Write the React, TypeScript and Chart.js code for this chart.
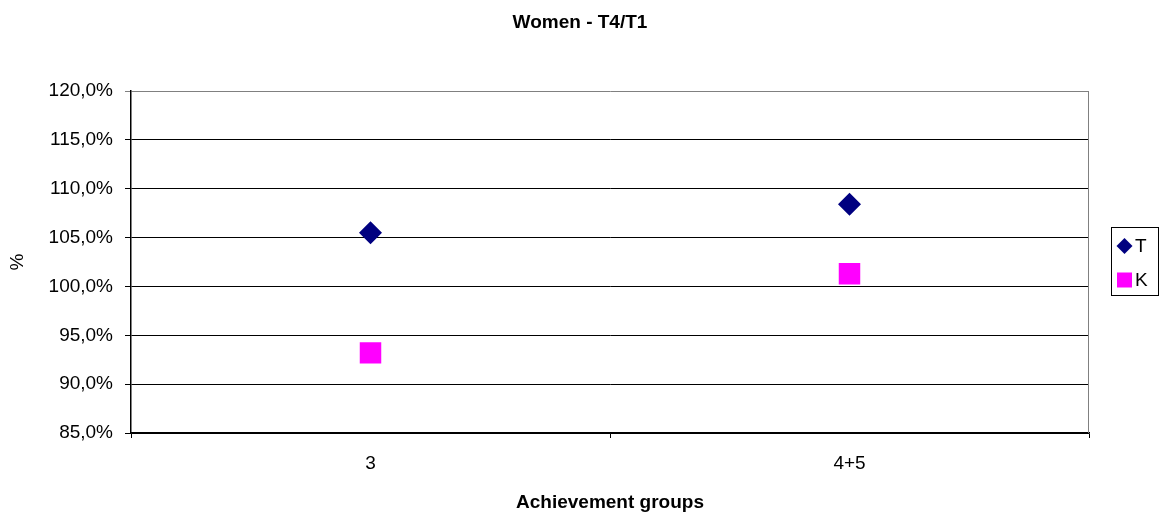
import { useEffect, useRef } from 'react';
import { Chart, registerables } from 'chart.js';

Chart.register(...registerables);

// Achievement groups on the category axis
const groups = ['3', '4+5'];
// T4/T1 ratio in percent, per series
const seriesT = [105.5, 108.4];
const seriesK = [93.2, 101.3];
const seriesNames = ['T', 'K'];
const seriesColors = ['#000080', '#FF00FF'];
// Value axis range and step
const yMin = 85;
const yMax = 120;
const yStep = 5;

const FONT = "'Liberation Sans', Arial, Helvetica, sans-serif";
const FS = 19;

const fmtPercent = (v: number) => `${v.toFixed(1).replace('.', ',')}%`;

// Draws the grey right edge of the plot frame and the boxed legend on the right.
const frameAndLegend = {
  id: 'frameAndLegend',
  afterDraw(chart: any) {
    const { ctx, chartArea: area } = chart;
    ctx.save();
    ctx.strokeStyle = '#808080';
    ctx.lineWidth = 1;
    ctx.beginPath();
    ctx.moveTo(Math.round(area.right) - 0.5, area.top);
    ctx.lineTo(Math.round(area.right) - 0.5, area.bottom);
    ctx.stroke();

    const datasets = chart.data.datasets;
    const boxLeft = Math.round(area.right) + 22;
    const boxRight = chart.width - 1;
    const boxH = 68;
    const boxTop = Math.round((area.top + area.bottom) / 2 - boxH / 2) - 1;
    ctx.strokeStyle = '#000000';
    ctx.strokeRect(boxLeft + 0.5, boxTop + 0.5, boxRight - boxLeft - 1, boxH);

    ctx.font = `${FS}px ${FONT}`;
    ctx.textBaseline = 'middle';
    ctx.textAlign = 'left';
    datasets.forEach((ds: any, i: number) => {
      const cx = boxLeft + 13.5;
      const cy = boxTop + 19 + i * 34;
      ctx.fillStyle = ds.backgroundColor;
      ctx.beginPath();
      if (ds.pointStyle === 'rectRot') {
        const r = 8;
        ctx.moveTo(cx - r, cy);
        ctx.lineTo(cx, cy - r);
        ctx.lineTo(cx + r, cy);
        ctx.lineTo(cx, cy + r);
        ctx.closePath();
        ctx.fill();
      } else {
        const s = 15;
        ctx.fillRect(cx - s / 2, cy - s / 2, s, s);
      }
      ctx.fillStyle = '#000000';
      ctx.fillText(ds.label, boxLeft + 24, cy + 1);
    });
    ctx.restore();
  },
};

export default function App() {
  const canvasRef = useRef<HTMLCanvasElement | null>(null);

  useEffect(() => {
    const canvas = canvasRef.current;
    if (!canvas) return;

    const chart = new Chart(canvas, {
      type: 'line',
      data: {
        labels: groups,
        datasets: [
          {
            label: seriesNames[0],
            data: seriesT,
            showLine: false,
            pointStyle: 'rectRot',
            pointRadius: 11.5,
            pointHoverRadius: 11.5,
            pointBorderWidth: 0,
            backgroundColor: seriesColors[0],
            borderColor: seriesColors[0],
          },
          {
            label: seriesNames[1],
            data: seriesK,
            showLine: false,
            pointStyle: 'rect',
            pointRadius: 15.2,
            pointHoverRadius: 15.2,
            pointBorderWidth: 0,
            backgroundColor: seriesColors[1],
            borderColor: seriesColors[1],
          },
        ],
      },
      options: {
        responsive: false,
        animation: false,
        devicePixelRatio: 1,
        events: [],
        layout: { padding: 0 },
        plugins: {
          legend: { display: false },
          tooltip: { enabled: false },
          title: {
            display: true,
            text: 'Women - T4/T1',
            color: '#000000',
            font: { family: FONT, size: FS, weight: 'bold', lineHeight: 1.2 },
            padding: { top: 11.6, bottom: 56.6 },
          },
        },
        scales: {
          x: {
            type: 'category',
            offset: true,
            grid: {
              display: true,
              offset: true,
              drawOnChartArea: false,
              drawTicks: true,
              tickLength: 5,
              color: '#000000',
            },
            border: { display: true, color: '#000000', width: 1.5 },
            ticks: {
              color: '#000000',
              padding: 14.6,
              font: { family: FONT, size: FS, lineHeight: 1.2 },
              maxRotation: 0,
            },
            title: {
              display: true,
              text: 'Achievement groups',
              color: '#000000',
              font: { family: FONT, size: FS, weight: 'bold', lineHeight: 1.2 },
              padding: { top: 0, bottom: 3.6 },
            },
            afterFit(scale: any) {
              scale.height = 85;
            },
          },
          y: {
            type: 'linear',
            position: 'left',
            min: yMin,
            max: yMax,
            grid: {
              display: true,
              drawTicks: true,
              tickLength: 6,
              color: (c: any) => (c.tick && c.tick.value === yMax ? '#808080' : '#000000'),
              lineWidth: 1,
            },
            border: { display: true, color: '#000000', width: 1.5 },
            ticks: {
              stepSize: yStep,
              color: '#000000',
              padding: 12,
              font: { family: FONT, size: FS, lineHeight: 1.2 },
              callback: (v: any) => fmtPercent(Number(v)),
            },
            title: {
              display: true,
              text: '%',
              color: '#000000',
              font: { family: FONT, size: FS, lineHeight: 1.2 },
              padding: { top: 6.6, bottom: 0 },
            },
            afterFit(scale: any) {
              scale.width = 131;
            },
          },
          legendSpace: {
            type: 'linear',
            position: 'right',
            display: true,
            grid: { display: false, drawTicks: false },
            border: { display: false },
            ticks: { display: false },
            afterFit(scale: any) {
              scale.width = 71;
            },
          },
        },
      },
      plugins: [frameAndLegend],
    } as any);

    return () => chart.destroy();
  }, []);

  return (
    <div style={{ position: 'absolute', left: 0, top: 0, width: 1160, height: 518, background: '#ffffff' }}>
      <canvas ref={canvasRef} width={1160} height={518} style={{ display: 'block' }} />
    </div>
  );
}
